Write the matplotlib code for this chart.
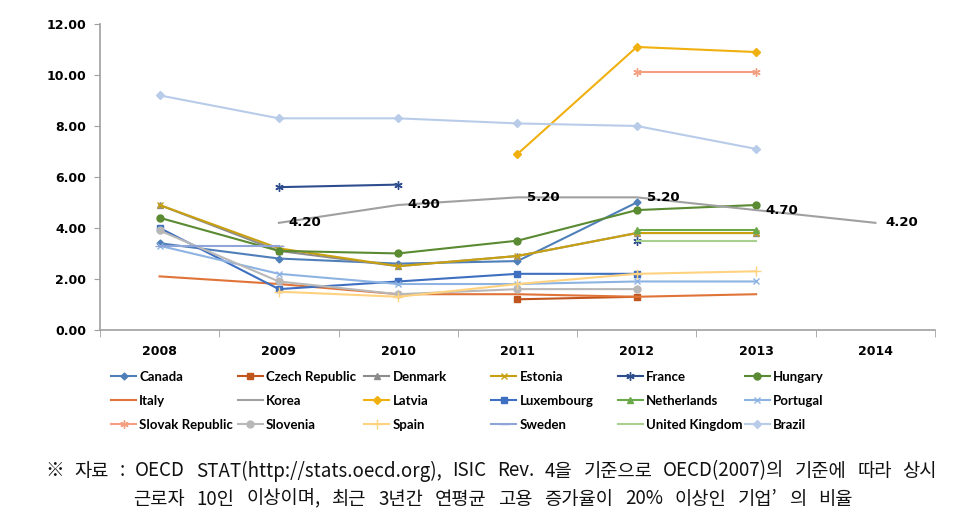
import numpy as np
import matplotlib
matplotlib.use("Agg")
import matplotlib.pyplot as plt

nan = np.nan
years = ["2008", "2009", "2010", "2011", "2012", "2013", "2014"]

canada      = [3.4, 2.8, 2.6, 2.7, 5.0, nan, nan]
czech       = [nan, nan, nan, 1.2, 1.3, nan, nan]
denmark     = [4.9, 3.1, 2.5, 2.9, 3.8, 3.8, nan]
estonia     = [4.9, 3.2, 2.5, 2.9, 3.8, 3.8, nan]
france      = [nan, 5.6, 5.7, nan, 3.5, nan, nan]
hungary     = [4.4, 3.1, 3.0, 3.5, 4.7, 4.9, nan]
italy       = [2.1, 1.8, 1.4, 1.4, 1.3, 1.4, nan]
korea       = [nan, 4.2, 4.9, 5.2, 5.2, 4.7, 4.2]
latvia      = [nan, nan, nan, 6.9, 11.1, 10.9, nan]
luxembourg  = [4.0, 1.6, 1.9, 2.2, 2.2, nan, nan]
netherlands = [nan, nan, nan, nan, 3.9, 3.9, nan]
portugal    = [3.3, 2.2, 1.8, 1.8, 1.9, 1.9, nan]
slovakia    = [nan, nan, nan, nan, 10.1, 10.1, nan]
slovenia    = [3.9, 1.9, 1.4, 1.6, 1.6, nan, nan]
spain       = [nan, 1.5, 1.3, 1.8, 2.2, 2.3, nan]
sweden      = [3.3, 3.3, nan, nan, nan, nan, nan]
uk          = [nan, nan, nan, nan, 3.5, 3.5, nan]
brazil      = [9.2, 8.3, 8.3, 8.1, 8.0, 7.1, nan]

series = [
    ("Canada", canada, "#4F7FB8", "D", 3.5),
    ("Czech Republic", czech, "#C0561E", "s", 5),
    ("Denmark", denmark, "#8C8C8C", "^", 5),
    ("Estonia", estonia, "#C9A010", "x", 5),
    ("France", france, "#2E4D8E", (6, 2, 0), 6),
    ("Hungary", hungary, "#5A8A32", "o", 5),
    ("Italy", italy, "#E07438", None, 0),
    ("Korea", korea, "#A0A0A0", None, 0),
    ("Latvia", latvia, "#F0B010", "D", 4),
    ("Luxembourg", luxembourg, "#3F6FC0", "s", 5),
    ("Netherlands", netherlands, "#6BA84A", "^", 5),
    ("Portugal", portugal, "#8DB3E2", "x", 5),
    ("Slovak Republic", slovakia, "#F4A080", (6, 2, 0), 6),
    ("Slovenia", slovenia, "#B8B8B8", "o", 5),
    ("Spain", spain, "#FFD27F", "+", 7),
    ("Sweden", sweden, "#8FA4D8", "_", 7),
    ("United Kingdom", uk, "#A9D08E", None, 0),
    ("Brazil", brazil, "#B8CCEA", "D", 4),
]

fig = plt.figure(figsize=(9.7, 5.22), dpi=100)
ax = fig.add_axes([0.103, 0.368, 0.861, 0.586])
x = np.arange(len(years))

handles = []
for name, vals, col, mk, ms in series:
    h, = ax.plot(x, vals, color=col, lw=1.5, marker=mk, markersize=ms,
                 markeredgecolor=col, markerfacecolor=col, label=name, zorder=3)
    handles.append(h)

# Korea data labels
for xi, v in zip(x, korea):
    if not np.isnan(v):
        ax.annotate(f"{v:.2f}", (xi, v), xytext=(7, 0), textcoords="offset points",
                    ha="left", va="center", fontsize=9.5, fontweight="bold", color="black")

ax.set_xlim(-0.5, len(years) - 0.5)
ax.set_ylim(0, 12)
yt = np.arange(0, 12.01, 2)
ax.set_yticks(yt)
ax.set_yticklabels([f"{v:.2f}" for v in yt], fontsize=9, fontweight="bold")
ax.set_xticks(x)
ax.set_xticklabels(years, fontsize=9, fontweight="bold")
ax.set_xticks(np.arange(-0.5, len(years)), minor=True)
ax.tick_params(axis="x", which="major", length=0, pad=11)
ax.tick_params(axis="x", which="minor", length=5, color="#A0A0A0")
ax.tick_params(axis="y", length=4, color="#A0A0A0", pad=6)
for s in ["top", "right"]:
    ax.spines[s].set_visible(False)
for s in ["left", "bottom"]:
    ax.spines[s].set_color("#A0A0A0")
    ax.spines[s].set_linewidth(1.2)

# legend: 6 columns x 3 rows, row-major
col_x = [121 + 126.7 * i for i in range(6)]
row_y = [377, 401, 425]
for i, h in enumerate(handles):
    r, c = divmod(i, 6)
    fx = (col_x[c] - 10) / 970
    fy = 1 - row_y[r] / 522
    fig.legend(handles=[h], labels=[h.get_label()], loc="center left",
               bbox_to_anchor=(fx, fy), frameon=False, handlelength=1.9,
               handletextpad=0.25, borderpad=0, borderaxespad=0,
               prop={"family": "Lato", "weight": "bold", "size": 9.5})

# note text, spread across the width like the reference
renderer = fig.canvas.get_renderer()
kfam = ["Noto Sans CJK KR", "DejaVu Sans"]
line1 = "※ 자료 : OECD STAT(http://stats.oecd.org), ISIC Rev. 4을 기준으로 OECD(2007)의 기준에 따라 상시"
line2 = "근로자 10인 이상이며, 최근 3년간 연평균 고용 증가율이 20% 이상인 기업’ 의 비율"


def spread(text, x0, x1, ypix, size):
    words = text.split(" ")
    arts = [fig.text(0, 1 - ypix / 522, w, family=kfam, fontsize=size,
                     va="center", ha="left", color="#111111") for w in words]
    widths = [a.get_window_extent(renderer).width for a in arts]
    gap = (x1 - x0 - sum(widths)) / (len(words) - 1)
    pos = x0
    for a, w in zip(arts, widths):
        a.set_x(pos / 970)
        pos += w + gap


spread(line1, 45, 937, 471, 13.5)
spread(line2, 133, 853, 499, 13.5)

fig.savefig("out.png", dpi=100)
